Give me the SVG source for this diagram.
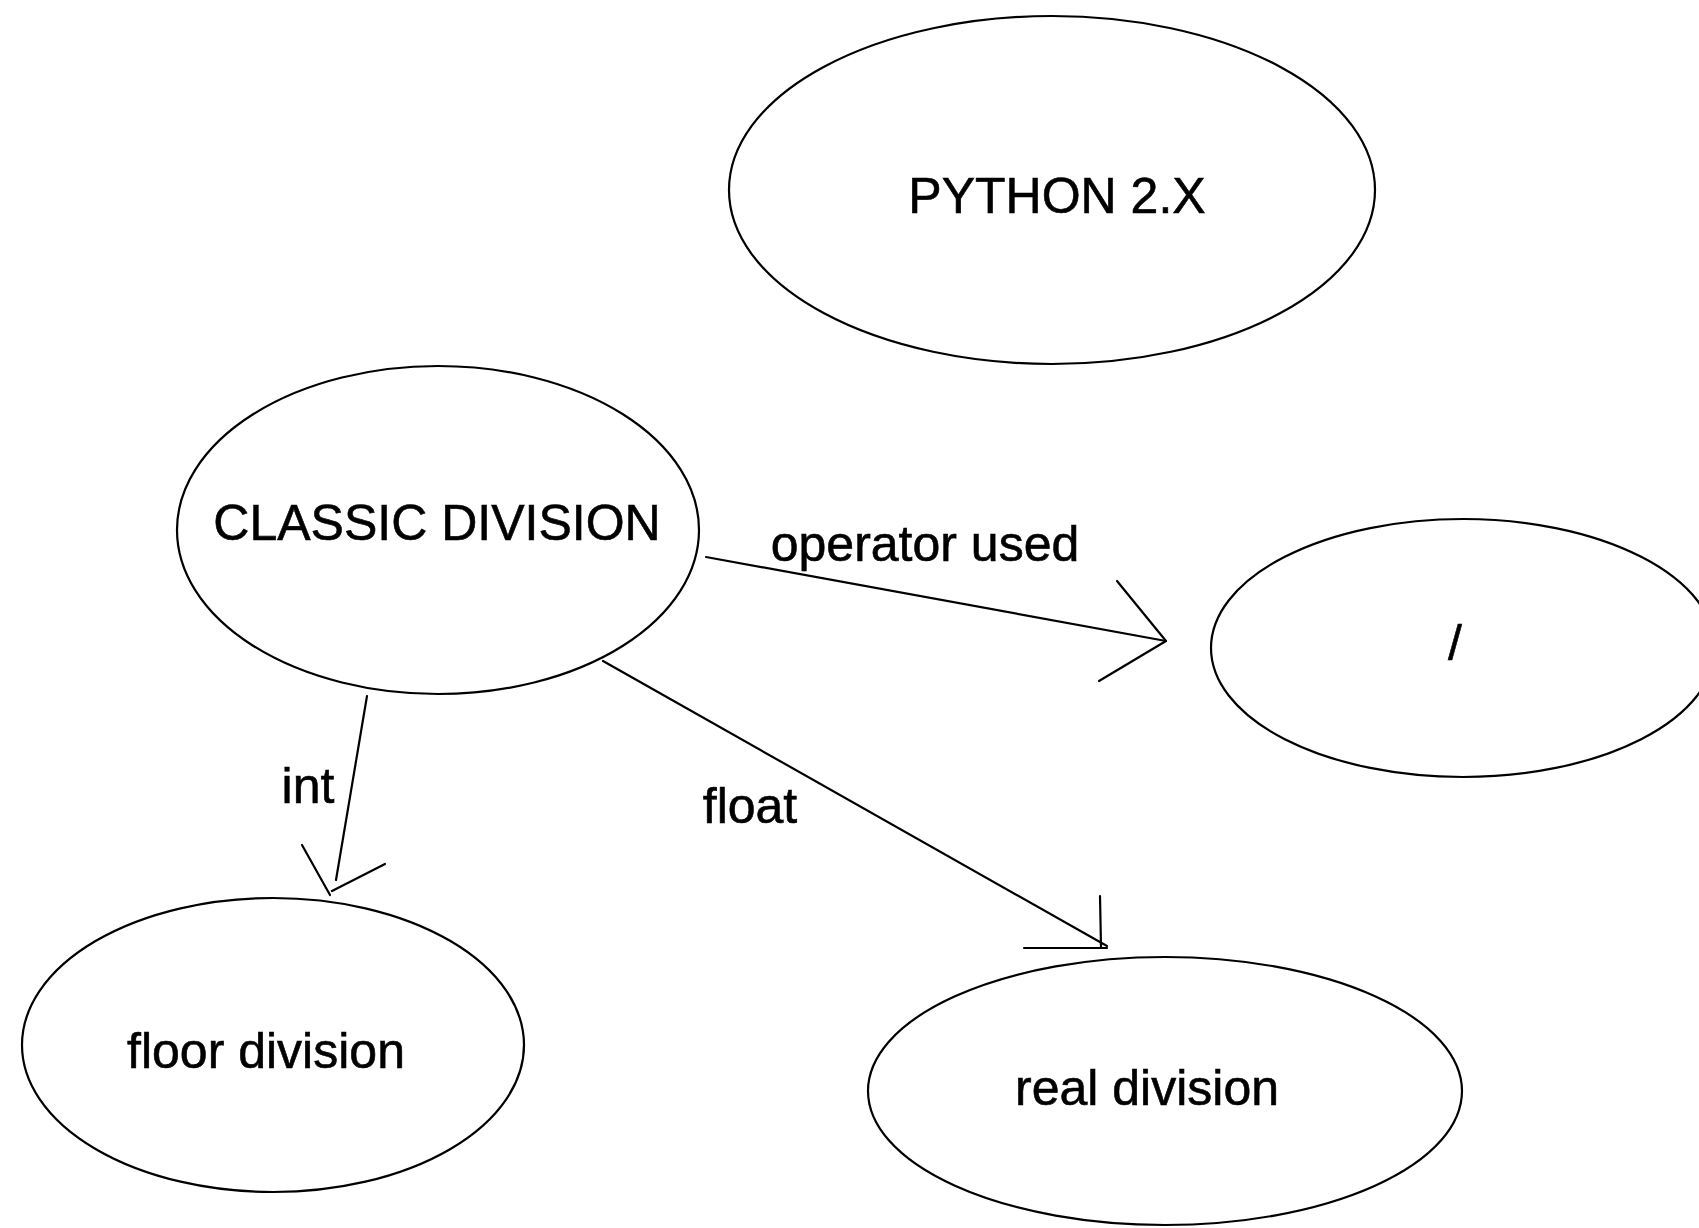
<svg xmlns="http://www.w3.org/2000/svg" width="1699" height="1228" viewBox="0 0 1699 1228">
<style>
.node{fill:none;stroke:#000;stroke-width:2.2}
.lbl{font-family:"Liberation Sans",Arial,sans-serif;font-size:50px;fill:#000;stroke:#000;stroke-width:0.6}
.edge{fill:none;stroke:#000;stroke-width:2.2;stroke-linecap:round;stroke-linejoin:round}
</style>
<rect width="1699" height="1228" fill="#fff"/>
<g id="python2x">
<ellipse class="node" cx="1052" cy="190" rx="323" ry="174"/>
<text class="lbl" x="1057" y="213" text-anchor="middle">PYTHON 2.X</text>
</g>
<g id="classic">
<ellipse class="node" cx="438" cy="530" rx="261" ry="164"/>
<text class="lbl" x="437" y="540" text-anchor="middle">CLASSIC DIVISION</text>
</g>
<g id="slash">
<ellipse class="node" cx="1463" cy="648" rx="252" ry="129"/>
<text class="lbl" x="1455" y="660" text-anchor="middle">/</text>
</g>
<g id="floor">
<ellipse class="node" cx="273" cy="1045" rx="251" ry="147"/>
<text class="lbl" x="266" y="1068" text-anchor="middle">floor division</text>
</g>
<g id="real">
<ellipse class="node" cx="1165" cy="1091" rx="297" ry="134"/>
<text class="lbl" x="1147" y="1105" text-anchor="middle">real division</text>
</g>
<g id="connectors">
<path class="edge" d="M706 557 L1166 641"/>
<path class="edge" d="M1117 581 L1166 641 L1099 681"/>
<path class="edge" d="M367 696 L336 880"/>
<path class="edge" d="M302 845 L330 895 M385 864 L332 891"/>
<path class="edge" d="M603 661 L1107 946"/>
<path class="edge" d="M1100 896 L1101 947 M1024 948 L1107 948"/>
<text class="lbl" x="925" y="561" text-anchor="middle">operator used</text>
<text class="lbl" x="308" y="803" text-anchor="middle">int</text>
<text class="lbl" x="750" y="823" text-anchor="middle">float</text>
</g>
</svg>
